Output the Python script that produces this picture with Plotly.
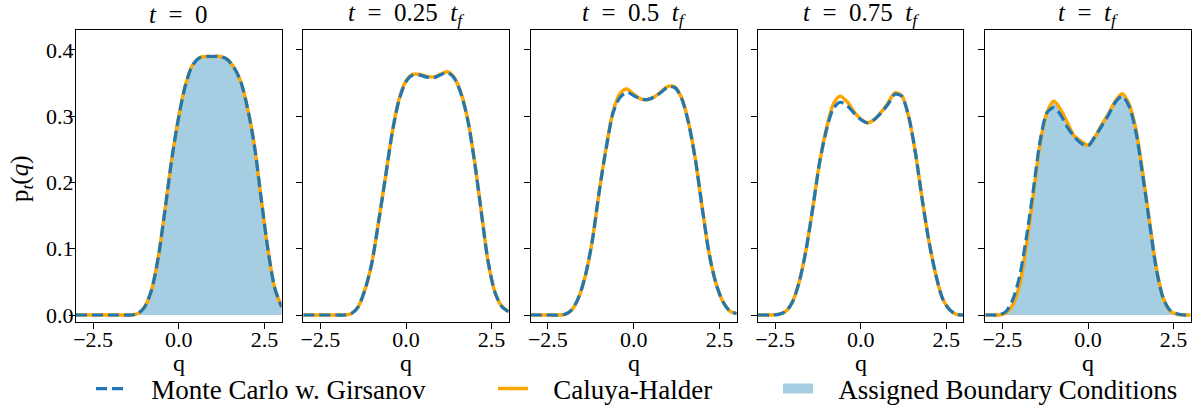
import plotly.graph_objects as go

# ---------------- data ----------------
q = [-3.0, -2.8, -2.6, -2.4, -2.2, -2.0, -1.8, -1.6, -1.4, -1.2, -1.0, -0.8, -0.6, -0.4, -0.2,
     0.0, 0.2, 0.4, 0.6, 0.8, 1.0, 1.2, 1.4, 1.6, 1.8, 2.0, 2.2, 2.4, 2.6, 2.8, 3.0]

titles = ["<i>t</i>\u2002=\u20020", "<i>t</i>\u2002=\u20020.25\u2002<i>t</i><sub><i>f</i></sub>",
          "<i>t</i>\u2002=\u20020.5\u2002<i>t</i><sub><i>f</i></sub>",
          "<i>t</i>\u2002=\u20020.75\u2002<i>t</i><sub><i>f</i></sub>",
          "<i>t</i>\u2002=\u2002<i>t</i><sub><i>f</i></sub>"]
x_label = "q"
y_label = "p<sub><i>t</i></sub>(<i>q</i>)"

mc_t0 = [0, 0, 0, 0, 0, 0, 0, 0, 0.0, 0.002, 0.012, 0.037, 0.087, 0.16, 0.237, 0.30, 0.348, 0.377,
         0.388, 0.39, 0.39, 0.39, 0.386, 0.374, 0.353, 0.313, 0.257, 0.176, 0.098, 0.04, 0.012]
ch_t0 = [0, 0, 0, 0, 0, 0, 0, 0, 0.0, 0.002, 0.012, 0.037, 0.087, 0.16, 0.237, 0.30, 0.348, 0.377,
         0.388, 0.39, 0.39, 0.39, 0.386, 0.374, 0.353, 0.313, 0.257, 0.176, 0.098, 0.04, 0.012]

mc_t25 = [0, 0, 0, 0, 0, 0, 0, 0.002, 0.012, 0.038, 0.078, 0.141, 0.208, 0.276, 0.325, 0.352, 0.362,
          0.362, 0.359, 0.358, 0.362, 0.366, 0.358, 0.335, 0.295, 0.232, 0.155, 0.08, 0.034, 0.013, 0.005]
ch_t25 = [0, 0, 0, 0, 0, 0, 0, 0.002, 0.012, 0.038, 0.078, 0.141, 0.208, 0.276, 0.326, 0.353, 0.363,
          0.363, 0.360, 0.359, 0.363, 0.367, 0.359, 0.336, 0.296, 0.233, 0.156, 0.08, 0.034, 0.013, 0.005]

mc_t50 = [0, 0, 0, 0, 0, 0.001, 0.008, 0.027, 0.061, 0.114, 0.188, 0.252, 0.305, 0.328, 0.336, 0.331,
          0.326, 0.325, 0.329, 0.336, 0.344, 0.343, 0.326, 0.289, 0.233, 0.16, 0.092, 0.047, 0.02, 0.006, 0.002]
ch_t50 = [0, 0, 0, 0, 0, 0.001, 0.008, 0.027, 0.061, 0.114, 0.188, 0.253, 0.307, 0.334, 0.341, 0.333,
          0.326, 0.325, 0.329, 0.337, 0.345, 0.344, 0.327, 0.29, 0.234, 0.16, 0.092, 0.047, 0.02, 0.006, 0.002]

mc_t75 = [0, 0, 0, 0.001, 0.005, 0.019, 0.049, 0.097, 0.161, 0.23, 0.279, 0.311, 0.321, 0.316, 0.305,
          0.295, 0.29, 0.295, 0.305, 0.318, 0.333, 0.33, 0.30, 0.245, 0.174, 0.11, 0.06, 0.024, 0.008, 0.001, 0]
ch_t75 = [0, 0, 0, 0.001, 0.005, 0.019, 0.049, 0.097, 0.161, 0.23, 0.281, 0.318, 0.330, 0.322, 0.307,
          0.296, 0.29, 0.295, 0.306, 0.320, 0.335, 0.331, 0.30, 0.245, 0.174, 0.11, 0.06, 0.024, 0.008, 0.001, 0]

mc_tf = [0, 0, 0, 0.005, 0.023, 0.058, 0.117, 0.188, 0.262, 0.305, 0.313, 0.302, 0.283, 0.269, 0.259,
         0.255, 0.269, 0.285, 0.302, 0.321, 0.33, 0.315, 0.276, 0.21, 0.138, 0.068, 0.025, 0.007, 0.002, 0, 0]
ch_tf = [0, 0, 0, 0.003, 0.015, 0.045, 0.105, 0.18, 0.258, 0.305, 0.323, 0.31, 0.29, 0.27, 0.262,
         0.256, 0.268, 0.287, 0.304, 0.323, 0.334, 0.318, 0.28, 0.214, 0.14, 0.07, 0.025, 0.006, 0.001, 0, 0]

# assigned boundary conditions (initial and final densities)
bc_initial = ch_t0
bc_final = ch_tf

mc_series = [mc_t0, mc_t25, mc_t50, mc_t75, mc_tf]
ch_series = [ch_t0, ch_t25, ch_t50, ch_t75, ch_tf]
bc_series = {0: bc_initial, 4: bc_final}

x_ticks = [-2.5, 0.0, 2.5]
x_ticklabels = ["−2.5", "0.0", "2.5"]
y_ticks = [0.0, 0.1, 0.2, 0.3, 0.4]
y_ticklabels = ["0.0", "0.1", "0.2", "0.3", "0.4"]

# ---------------- styling ----------------
FONT = "Liberation Serif"
W, H = 1202, 412
BLUE = "#1f77b4"
ORANGE = "#ffa500"
FILL = "#a6cee3"
GAP = "\u00a0\u00a0\u00a0"

x_dom = [(76, 281.7), (303.3, 508.7), (530.7, 736.7), (758, 963.3), (985.3, 1190.7)]
y_top, y_bot = 30, 321.7
ydom = [1 - y_bot / H, 1 - y_top / H]

fig = go.Figure()

for i in range(5):
    xa = "x" if i == 0 else f"x{i+1}"
    ya = "y" if i == 0 else f"y{i+1}"
    if i in bc_series:
        fig.add_trace(go.Scatter(
            x=q, y=bc_series[i], xaxis=xa, yaxis=ya, mode="lines",
            line=dict(width=0, shape="spline", smoothing=0.8), fill="tozeroy", fillcolor=FILL,
            name="Assigned Boundary Conditions", showlegend=False, hoverinfo="skip"))
    fig.add_trace(go.Scatter(
        x=q, y=ch_series[i], xaxis=xa, yaxis=ya, mode="lines",
        line=dict(color=ORANGE, width=3.5, shape="spline", smoothing=0.8),
        name=GAP + "Caluya-Halder", legend="legend2", showlegend=(i == 0)))
    fig.add_trace(go.Scatter(
        x=q, y=mc_series[i], xaxis=xa, yaxis=ya, mode="lines",
        line=dict(color=BLUE, width=3.2, dash="11px,5px", shape="spline", smoothing=0.8),
        name=GAP + "Monte Carlo w. Girsanov", legend="legend", showlegend=(i == 0)))

# legend entry for the filled boundary-condition areas
fig.add_trace(go.Scatter(x=[None], y=[None], mode="lines",
                         line=dict(color=FILL, width=17),
                         name=GAP + "Assigned Boundary Conditions", legend="legend3"))

axis_common = dict(showline=True, linecolor="black", linewidth=1, mirror=True,
                   ticks="outside", ticklen=6, tickwidth=1, tickcolor="black",
                   showgrid=False, zeroline=False, automargin=False,
                   tickfont=dict(family=FONT, size=22, color="black"))

layout = dict(width=W, height=H, margin=dict(l=0, r=0, t=0, b=0, autoexpand=False),
              plot_bgcolor="white", paper_bgcolor="white",
              font=dict(family=FONT, color="black"))

for i in range(5):
    xk = "xaxis" if i == 0 else f"xaxis{i+1}"
    yk = "yaxis" if i == 0 else f"yaxis{i+1}"
    a, b = x_dom[i]
    layout[xk] = dict(axis_common, domain=[a / W, b / W], range=[-3.0, 3.0],
                      tickvals=x_ticks, ticktext=x_ticklabels, ticklabelstandoff=-8,
                      anchor="y" if i == 0 else f"y{i+1}")
    ydict = dict(axis_common, domain=ydom, range=[-0.0101, 0.430], tickvals=y_ticks,
                 anchor="x" if i == 0 else f"x{i+1}")
    if i == 0:
        ydict["ticktext"] = y_ticklabels
        ydict["ticklabelstandoff"] = -9
    else:
        ydict["showticklabels"] = False
        ydict["matches"] = "y"
    layout[yk] = ydict

leg_common = dict(orientation="h", yanchor="middle", y=1 - 389 / H, xanchor="left",
                  font=dict(family=FONT, size=27, color="black"), bgcolor="rgba(0,0,0,0)",
                  borderwidth=0)
layout["legend"] = dict(leg_common, x=91 / W)
layout["legend2"] = dict(leg_common, x=493 / W)
layout["legend3"] = dict(leg_common, x=778 / W)

annotations = []
for i in range(5):
    a, b = x_dom[i]
    annotations.append(dict(text=titles[i], x=(a + b) / 2 / W, y=1 - 15 / H, xref="paper", yref="paper",
                            xanchor="center", yanchor="middle", showarrow=False,
                            font=dict(family=FONT, size=25, color="black")))
    # axis title below each panel
    annotations.append(dict(text=x_label, x=(a + b) / 2 / W, y=1 - 363 / H, xref="paper", yref="paper",
                            xanchor="center", yanchor="middle", showarrow=False,
                            font=dict(family=FONT, size=24, color="black")))
# shared y-axis title
annotations.append(dict(text=y_label, x=21 / W, y=1 - 178 / H, xref="paper", yref="paper",
                        xanchor="center", yanchor="middle", textangle=-90, showarrow=False,
                        font=dict(family=FONT, size=25, color="black")))
layout["annotations"] = annotations

fig.update_layout(layout)
# remove the browser's default 8px page margin so the figure sits at the window origin
fig.write_html("out.html", config={"displayModeBar": False},
               post_script="document.body.style.margin='0px';")
